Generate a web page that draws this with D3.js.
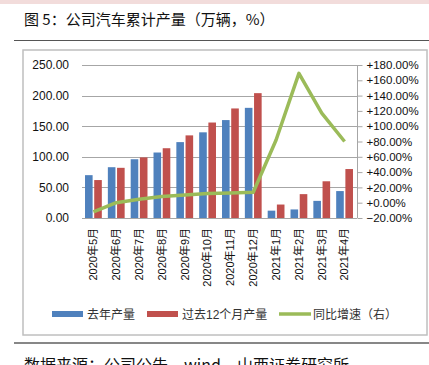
<!DOCTYPE html>
<html>
<head>
<meta charset="utf-8">
<script src="https://cdn.jsdelivr.net/npm/d3@7"></script>
<style>
  body { margin: 0; background: #fff; }
  svg { display: block; }
</style>
</head>
<body>
<div id="chart"></div>
<script>
var width = 429;
var height = 365;

var months = ["2020年5月", "2020年6月", "2020年7月", "2020年8月", "2020年9月", "2020年10月",
  "2020年11月", "2020年12月", "2021年1月", "2021年2月", "2021年3月", "2021年4月"];
var lastYear = [70, 83, 96, 107, 124, 140, 160, 180, 12, 14, 28, 44];
var past12 = [62, 82, 99, 114, 135, 156, 179, 204, 22, 39, 60, 80];
var yoy = [-12, 0, 4.5, 8, 10, 12, 12.7, 13.6, 82, 169, 117, 80];
var leftTicks = [0, 50, 100, 150, 200, 250];
var rightTicks = [-20, 0, 20, 40, 60, 80, 100, 120, 140, 160, 180];
var legendNames = ["去年产量", "过去12个月产量", "同比增速（右）"];

var font = "'Liberation Sans', 'Noto Sans CJK SC', sans-serif";
var blue = "#4f81bd", red = "#c0504d", green = "#9bbb59";

var svg = d3.select("#chart").append("svg")
  .attr("width", width).attr("height", height);

// top band and title
svg.append("rect").attr("x", 0).attr("y", 0).attr("width", width).attr("height", 4)
  .attr("fill", "#f2dcdb");
svg.append("text").attr("x", 24).attr("y", 25)
  .style("font-family", "'Noto Sans CJK SC', sans-serif").style("font-size", "15px")
  .attr("fill", "#111")
  .text("图 5：公司汽车累计产量（万辆，%）");
svg.append("line").attr("x1", 14).attr("x2", width).attr("y1", 40.5).attr("y2", 40.5)
  .attr("stroke", "#555").attr("stroke-width", 1.2);

// chart frame
svg.append("rect").attr("x", 23).attr("y", 50).attr("width", 404).attr("height", 285)
  .attr("fill", "#fff").attr("stroke", "#bfbfbf").attr("stroke-width", 1.5);

var x = d3.scaleBand().domain(months).range([82, 356]);
var y = d3.scaleLinear().domain([0, 250]).range([218, 65]);
var y2 = d3.scaleLinear().domain([-20, 180]).range([218, 65]);

// gridlines
svg.append("g").selectAll("line").data(leftTicks).enter().append("line")
  .attr("x1", 82).attr("x2", 357)
  .attr("y1", function(d) { return Math.round(y(d)) + 0.5; })
  .attr("y2", function(d) { return Math.round(y(d)) + 0.5; })
  .attr("stroke", "#a6a6a6").attr("stroke-width", 1);

// left axis labels
var yAxis = svg.append("g").attr("transform", "translate(82,0)")
  .call(d3.axisLeft(y).tickValues(leftTicks).tickSize(0).tickPadding(13)
    .tickFormat(function(d) { return d3.format(".2f")(d); }));
yAxis.select(".domain").remove();
yAxis.selectAll("text").style("font-family", font).style("font-size", "12px").attr("fill", "#111");

// right axis
var yAxis2 = svg.append("g").attr("transform", "translate(357.5,0)")
  .call(d3.axisRight(y2).tickValues(rightTicks).tickSize(5).tickPadding(4)
    .tickFormat(function(d) { return (d >= 0 ? "+" : "") + d3.format(".2f")(d) + "%"; }));
yAxis2.select(".domain").attr("stroke", "#a6a6a6").attr("d", "M0,65V218");
yAxis2.selectAll("line").attr("stroke", "#a6a6a6");
yAxis2.selectAll("text").style("font-family", font).style("font-size", "11.5px").attr("fill", "#111");

// bars
var bw = 7.6, gap = 1.6;
svg.append("g").selectAll("rect").data(lastYear).enter().append("rect")
  .attr("x", function(d, i) { return x(months[i]) + x.bandwidth() / 2 - gap / 2 - bw; })
  .attr("y", function(d) { return y(d); })
  .attr("width", bw)
  .attr("height", function(d) { return y(0) - y(d); })
  .attr("fill", blue);
svg.append("g").selectAll("rect").data(past12).enter().append("rect")
  .attr("x", function(d, i) { return x(months[i]) + x.bandwidth() / 2 + gap / 2; })
  .attr("y", function(d) { return y(d); })
  .attr("width", bw)
  .attr("height", function(d) { return y(0) - y(d); })
  .attr("fill", red);

// x axis line
svg.append("line").attr("x1", 82).attr("x2", 357).attr("y1", 218.5).attr("y2", 218.5)
  .attr("stroke", "#a6a6a6");

// x labels
svg.append("g").selectAll("text").data(months).enter().append("text")
  .attr("transform", function(d) { return "translate(" + (x(d) + x.bandwidth() / 2) + ",228) rotate(-90)"; })
  .attr("dy", "0.35em")
  .style("text-anchor", "end")
  .style("font-family", font).style("font-size", "11px").attr("fill", "#111")
  .text(function(d) { return d; });

// growth line
var line = d3.line()
  .x(function(d, i) { return x(months[i]) + x.bandwidth() / 2; })
  .y(function(d) { return y2(d); });
svg.append("path").datum(yoy).attr("d", line)
  .attr("fill", "none").attr("stroke", green).attr("stroke-width", 3.5)
  .attr("stroke-linejoin", "round");

// legend
var legend = svg.append("g");
var lx = [52, 147, 279];
var tx = [87, 182, 313];
legend.append("rect").attr("x", lx[0]).attr("y", 311).attr("width", 31).attr("height", 6).attr("fill", blue);
legend.append("rect").attr("x", lx[1]).attr("y", 311).attr("width", 31).attr("height", 6).attr("fill", red);
legend.append("line").attr("x1", lx[2]).attr("x2", lx[2] + 32).attr("y1", 314).attr("y2", 314)
  .attr("stroke", green).attr("stroke-width", 3.5);
legend.selectAll("text").data(legendNames).enter().append("text")
  .attr("x", function(d, i) { return tx[i]; })
  .attr("y", 318.5)
  .style("font-family", font).style("font-size", "12px").attr("fill", "#333")
  .text(function(d) { return d; });

// source
svg.append("line").attr("x1", 14).attr("x2", width).attr("y1", 343).attr("y2", 343)
  .attr("stroke", "#111").attr("stroke-width", 1.2);
svg.append("text").attr("x", 24).attr("y", 371)
  .style("font-family", "'Noto Sans CJK SC', sans-serif").style("font-size", "16px")
  .attr("fill", "#111")
  .text("数据来源：公司公告，wind，山西证券研究所");
</script>
</body>
</html>
